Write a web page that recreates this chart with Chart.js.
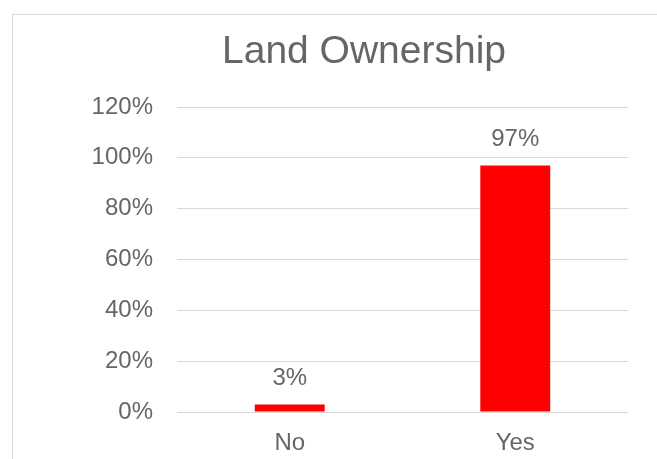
<!DOCTYPE html>
<html>
<head>
<meta charset="utf-8">
<script src="https://cdn.jsdelivr.net/npm/chart.js@4/dist/chart.umd.min.js"></script>
<style>
  html, body { margin: 0; padding: 0; overflow: hidden; background: #fff; }
  #frame { position: absolute; left: 12px; top: 14px; width: 703px; height: 500px; border: 1px solid #d9d9d9; }
  #wrap { position: absolute; left: 0; top: 0; width: 716px; height: 459px; }
</style>
</head>
<body>
<div id="frame"></div>
<div id="wrap"><canvas id="chart"></canvas></div>
<script>
const chartTitle = 'Land Ownership';
const categories = ['No', 'Yes'];
const shares = [3, 97];
const yTicks = [0, 20, 40, 60, 80, 100, 120];

const textColor = '#666666';
const fontFamily = '"Liberation Sans", Arial, sans-serif';

// title centred on the whole frame, not just the plot
const frameTitle = {
  id: 'frameTitle',
  afterDraw(chart) {
    const ctx = chart.ctx;
    ctx.save();
    ctx.font = '39px ' + fontFamily;
    ctx.fillStyle = textColor;
    ctx.textAlign = 'center';
    ctx.textBaseline = 'alphabetic';
    ctx.fillText(chartTitle, 364, 63);
    ctx.restore();
  }
};

// value labels above each bar
const barLabels = {
  id: 'barLabels',
  afterDatasetsDraw(chart) {
    const ctx = chart.ctx;
    const meta = chart.getDatasetMeta(0);
    ctx.save();
    ctx.font = '24px ' + fontFamily;
    ctx.fillStyle = textColor;
    ctx.textAlign = 'center';
    ctx.textBaseline = 'middle';
    meta.data.forEach((bar, i) => {
      ctx.fillText(shares[i] + '%', bar.x, bar.y - 26);
    });
    ctx.restore();
  }
};

new Chart(document.getElementById('chart'), {
  type: 'bar',
  data: {
    labels: categories,
    datasets: [{
      data: shares,
      backgroundColor: '#ff0000',
      borderWidth: 0,
      barPercentage: 0.31,
      categoryPercentage: 1
    }]
  },
  options: {
    responsive: true,
    maintainAspectRatio: false,
    animation: false,
    layout: { padding: { left: 0, right: 88, top: 107, bottom: 0 } },
    scales: {
      x: {
        grid: { display: false, drawTicks: false },
        border: { display: false },
        ticks: { color: textColor, font: { size: 24, family: fontFamily }, padding: 17 },
        afterFit(scale) { scale.height = 47; }
      },
      y: {
        min: 0,
        max: 120,
        afterBuildTicks(scale) { scale.ticks = yTicks.map(v => ({ value: v })); },
        grid: { color: '#d9d9d9', lineWidth: 1, drawTicks: false },
        border: { display: false },
        ticks: {
          color: textColor,
          font: { size: 24, family: fontFamily },
          padding: 24,
          callback: v => v + '%'
        },
        afterFit(scale) { scale.width = 177; }
      }
    },
    plugins: {
      legend: { display: false },
      tooltip: { enabled: false },
      title: { display: false }
    }
  },
  plugins: [barLabels, frameTitle]
});
</script>
</body>
</html>
